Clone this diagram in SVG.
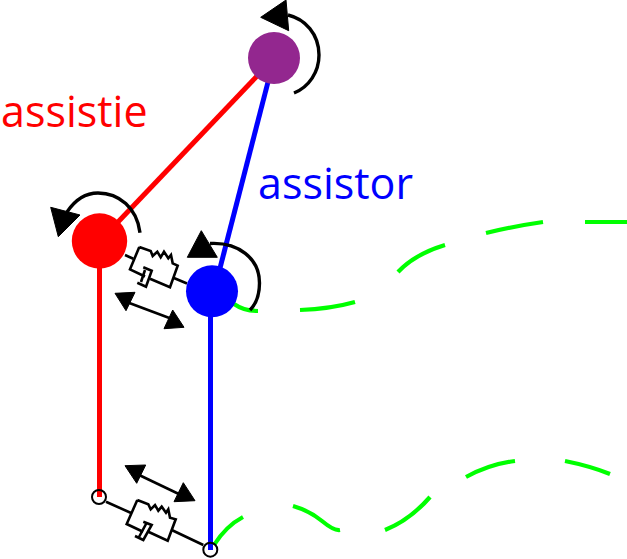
<svg xmlns="http://www.w3.org/2000/svg" width="627" height="559" viewBox="0 0 627 559">
<style>
.t{font-family:"Open Sans","Noto Sans",sans-serif;font-size:43px}
.g{fill:none;stroke:#0f0;stroke-width:4.2;stroke-linecap:butt}
.k{fill:none;stroke:#000;stroke-width:2.6;stroke-linejoin:miter}
.a{fill:none;stroke:#000;stroke-width:3.4}
.h{fill:#000;stroke:#000;stroke-width:1;stroke-linejoin:miter}
.o{fill:none;stroke:#000;stroke-width:2}
</style>
<rect width="627" height="559" fill="#fff"/>
<g id="connectors">
<path d="M118 222L258 75" fill="none" stroke="#f00" stroke-width="5"/>
<path d="M99.500 260V497" fill="none" stroke="#f00" stroke-width="5"/>
<path d="M268 82L219 272" fill="none" stroke="#00f" stroke-width="5"/>
<path d="M210.500 310V550" fill="none" stroke="#00f" stroke-width="5"/>
<g id="trajectory-top">
<path class="g" d="M234 304Q244 311 258 311"/>
<path class="g" d="M300 310Q330 309 355 302"/>
<path class="g" d="M398 272Q415 254 445 245"/>
<path class="g" d="M486 233Q515 226 543 222"/>
<path class="g" d="M585 222H627"/>
</g>
<g id="trajectory-bottom">
<path class="g" d="M214 545Q226 526 243 517"/>
<path class="g" d="M293 506Q310 511 322 521T340 530"/>
<path class="g" d="M385 530Q410 520 430 497"/>
<path class="g" d="M466 477Q490 464 515 461"/>
<path class="g" d="M565 461Q590 466 610 474"/>
</g>
</g>
<g id="damper-top">
<path class="k" d="M125 255L133.300 258.700M173.300 277.700L187 283.500"/>
<path class="k" d="M139.300 247L150.700 251L152.700 256L157.300 251.700L160.700 257.300L164 251.700L168.300 258.300L171 255L172.700 263.300L177.700 265.700L170 287.300L150 278.700M139.300 247L130 269.300L145 276.500"/>
<path class="k" d="M143.300 267.300L151.700 270.700L146 286.700L137.300 282.700M145 270L141 282"/>
</g>
<g id="damper-bottom">
<path class="k" d="M106 501.700L131.700 513.300M171.700 530L203.300 545"/>
<path class="k" d="M137.300 500L148.300 504.300L150.700 509.300L155 505L158.300 510.700L161.700 506.700L166 512.700L168.300 509.300L170 517.700L175.700 519.300L167.700 540.700L148.300 531.700M137.300 500L126.700 524L143 531.700"/>
<path class="k" d="M143.300 521.700L151.700 525L143.300 540L135 536M146 524L139 537"/>
</g>
<g id="arrow-top">
<path class="k" d="M126 301.700L172.700 319.300"/>
<path class="h" d="M115 293.300L135 292.300L126 310.700Z"/>
<path class="h" d="M184 327.300L164 328.700L172.700 310Z"/>
</g>
<g id="arrow-bottom">
<path class="k" d="M137 474L183 496"/>
<path class="h" d="M125 465.700L145.700 465L136.700 483.300Z"/>
<path class="h" d="M195 500.700L174 501.700L183.300 482.700Z"/>
</g>
<g id="node-purple">
<circle cx="274" cy="58" r="26" fill="#93278f"/>
<path class="a" d="M294 93C309 87 319 72 319 55C319 34 305 19 288 15"/>
<path class="h" d="M286 0L260.700 17.300L288.700 30.700Z"/>
</g>
<g id="node-red">
<circle cx="99.500" cy="241" r="27.700" fill="#f00"/>
<path class="a" d="M140 232.700C137 208 119 193 98 193C86 193 75 200 67 212"/>
<path class="h" d="M50.700 207.300L80 215L58.300 236.700Z"/>
</g>
<g id="node-blue">
<circle cx="212" cy="291.300" r="26" fill="#00f"/>
<path class="a" d="M250 310C257 303 259.500 293 259.500 283C259.500 258 238 242 210 243.500"/>
<path class="h" d="M201.300 230.700L217.300 257.300L187.300 257.300Z"/>
</g>
<g id="joint-top"><circle class="o" cx="99" cy="497" r="7"/></g>
<g id="joint-bottom"><circle class="o" cx="210.300" cy="549.700" r="7"/></g>
<g id="label-assistie"><text class="t" x="1" y="127" fill="#f00">assistie</text></g>
<g id="label-assistor"><text class="t" x="258" y="199" fill="#00f">assistor</text></g>
</svg>
